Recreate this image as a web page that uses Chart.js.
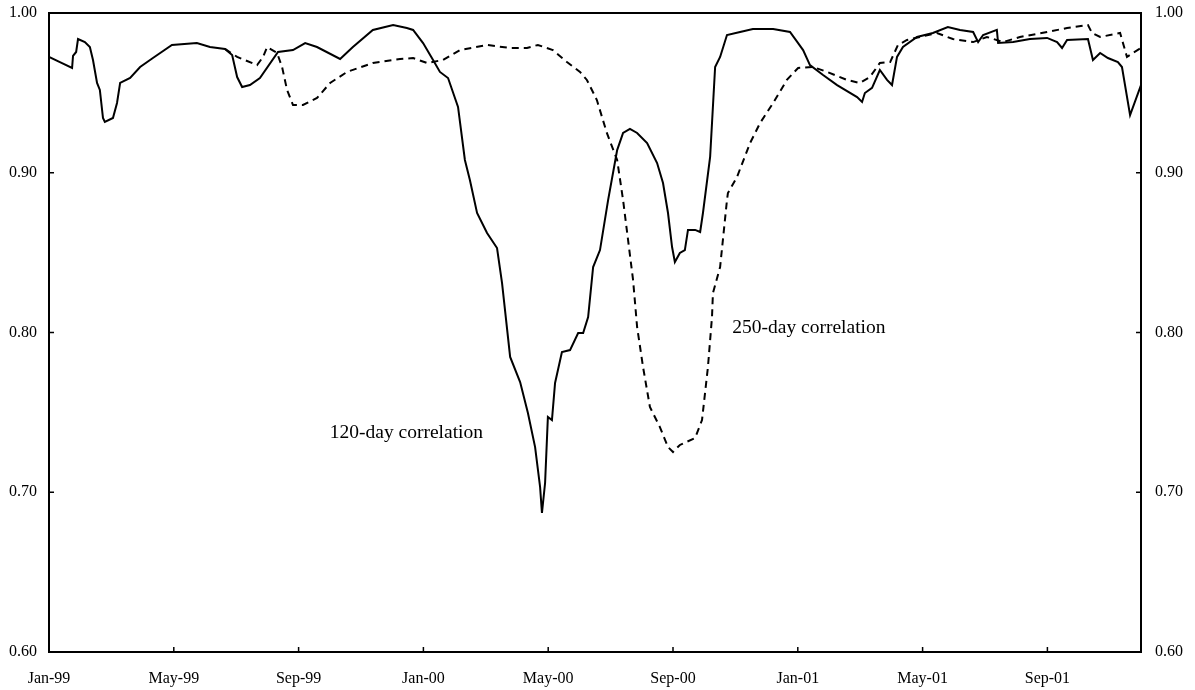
<!DOCTYPE html>
<html>
<head>
<meta charset="utf-8">
<script src="https://cdn.jsdelivr.net/npm/chart.js@4"></script>
<style>
  html, body { margin: 0; padding: 0; background: #fff; }
  #wrap { width: 1195px; height: 690px; }
</style>
</head>
<body>
<div id="wrap"><canvas id="myChart"></canvas></div>
<script>
// months counted from Jan-99 (0) to Dec-01 (35)
var tickMonths = [0, 4, 8, 12, 16, 20, 24, 28, 32];
var tickLabels = ['Jan-99', 'May-99', 'Sep-99', 'Jan-00', 'May-00', 'Sep-00', 'Jan-01', 'May-01', 'Sep-01'];

var months120 = [0, 0.35, 0.74, 0.77, 0.87, 0.93, 1.15, 1.31, 1.41, 1.54, 1.63, 1.73, 1.79, 2.05, 2.18, 2.28, 2.60, 2.92, 3.33, 3.94,
  4.74, 5.16, 5.64, 5.87, 6.03, 6.19, 6.44, 6.76, 7.34, 7.82, 8.21, 8.59, 9.33, 9.74, 10.38, 11.03, 11.47, 11.67, 11.99, 12.31,
  12.53, 12.79, 13.11, 13.33, 13.49, 13.72, 14.04, 14.36, 14.52, 14.78, 15.10, 15.35, 15.58, 15.74, 15.80, 15.90, 15.99, 16.12, 16.22, 16.44,
  16.70, 16.96, 17.12, 17.28, 17.44, 17.66, 17.92, 18.21, 18.40, 18.62, 18.85, 19.17, 19.49, 19.68, 19.84, 19.97, 20.06, 20.22, 20.38, 20.48,
  20.71, 20.87, 20.96, 21.19, 21.35, 21.51, 21.73, 22.15, 22.56, 23.21, 23.75, 24.01, 24.17, 24.39, 24.81, 25.26, 25.90, 26.06, 26.15, 26.38,
  26.63, 26.86, 27.02, 27.18, 27.37, 27.82, 28.33, 28.81, 29.20, 29.62, 29.78, 29.94, 30.38, 30.42, 30.90, 31.44, 31.99, 32.31, 32.47, 32.63,
  33.30, 33.46, 33.69, 33.94, 34.26, 34.39, 34.65, 35.00];
var corr120 = [0.9725, 0.9693, 0.9656, 0.9731, 0.9756, 0.9837, 0.9818, 0.9787, 0.9706, 0.9562, 0.9518, 0.9343, 0.9318, 0.9343, 0.9437, 0.9562, 0.9593, 0.9662, 0.9718, 0.9800,
  0.9812, 0.9787, 0.9775, 0.9737, 0.9599, 0.9537, 0.9549, 0.9593, 0.9756, 0.9768, 0.9812, 0.9787, 0.9712, 0.9787, 0.9894, 0.9925, 0.9906, 0.9894, 0.9812, 0.9706,
  0.9631, 0.9593, 0.9412, 0.9080, 0.8955, 0.8748, 0.8623, 0.8529, 0.8310, 0.7847, 0.7690, 0.7496, 0.7283, 0.7033, 0.6870, 0.7058, 0.7471, 0.7452, 0.7684, 0.7878,
  0.7890, 0.7997, 0.7997, 0.8097, 0.8410, 0.8516, 0.8829, 0.9142, 0.9249, 0.9274, 0.9249, 0.9186, 0.9061, 0.8936, 0.8748, 0.8535, 0.8441, 0.8498, 0.8516, 0.8642,
  0.8642, 0.8629, 0.8748, 0.9099, 0.9662, 0.9725, 0.9862, 0.9881, 0.9900, 0.9900, 0.9881, 0.9812, 0.9768, 0.9674, 0.9612, 0.9549, 0.9474, 0.9443, 0.9499, 0.9531,
  0.9643, 0.9581, 0.9549, 0.9725, 0.9787, 0.9850, 0.9875, 0.9912, 0.9894, 0.9881, 0.9818, 0.9862, 0.9894, 0.9812, 0.9818, 0.9837, 0.9844, 0.9818, 0.9781, 0.9831,
  0.9837, 0.9706, 0.9750, 0.9718, 0.9693, 0.9662, 0.9361, 0.9549];

var months250 = [5.64, 6.03, 6.67, 6.86, 6.99, 7.31, 7.47, 7.63, 7.82, 8.14, 8.59, 9.01, 9.55, 10.38, 11.25, 11.67, 12.12, 12.63, 13.17, 14.04,
  14.78, 15.32, 15.67, 16.15, 16.60, 17.02, 17.24, 17.56, 17.88, 18.21, 18.40, 18.72, 18.85, 19.04, 19.26, 19.58, 19.84, 20.00, 20.22, 20.71,
  20.93, 21.12, 21.25, 21.28, 21.51, 21.73, 21.76, 22.05, 22.47, 22.79, 23.21, 23.65, 24.01, 24.49, 24.94, 25.58, 25.99, 26.31, 26.63, 26.96,
  27.21, 27.50, 27.92, 28.46, 28.97, 29.62, 30.06, 30.58, 31.12, 31.99, 32.63, 33.30, 33.43, 33.69, 34.33, 34.55, 34.74, 35.00];
var corr250 = [0.9775, 0.9725, 0.9674, 0.9725, 0.9787, 0.9750, 0.9662, 0.9518, 0.9424, 0.9424, 0.9468, 0.9562, 0.9631, 0.9687, 0.9712, 0.9718, 0.9687, 0.9706, 0.9768, 0.9800,
  0.9781, 0.9781, 0.9800, 0.9768, 0.9693, 0.9631, 0.9581, 0.9455, 0.9249, 0.9080, 0.8829, 0.8329, 0.8034, 0.7784, 0.7534, 0.7408, 0.7283, 0.7252, 0.7296, 0.7340,
  0.7452, 0.7784, 0.8097, 0.8247, 0.8410, 0.8829, 0.8873, 0.8973, 0.9186, 0.9311, 0.9437, 0.9581, 0.9656, 0.9662, 0.9631, 0.9581, 0.9562, 0.9599, 0.9687, 0.9693,
  0.9800, 0.9831, 0.9850, 0.9875, 0.9837, 0.9818, 0.9850, 0.9818, 0.9850, 0.9881, 0.9906, 0.9925, 0.9875, 0.9850, 0.9875, 0.9725, 0.9750, 0.9781];

// text labels anchored in data units (month, correlation)
var notes = [
  { text: '120-day correlation', month: 9.0, value: 0.737 },
  { text: '250-day correlation', month: 21.9, value: 0.803 }
];

function toPoints(xs, ys) {
  return xs.map(function (x, i) { return { x: x, y: ys[i] }; });
}

var serif = '"Liberation Serif", "Times New Roman", serif';

// frame, inward tick marks and the line captions
var framePlugin = {
  id: 'frame',
  afterDraw: function (chart) {
    var c = chart.ctx, a = chart.chartArea;
    var sx = chart.scales.x, sy = chart.scales.y;
    c.save();
    c.strokeStyle = '#000';
    c.lineWidth = 2;
    c.strokeRect(a.left, a.top, a.right - a.left, a.bottom - a.top);
    c.lineWidth = 1.5;
    c.beginPath();
    tickMonths.forEach(function (m) {
      var px = sx.getPixelForValue(m);
      c.moveTo(px, a.bottom); c.lineTo(px, a.bottom - 5);
    });
    [0.6, 0.7, 0.8, 0.9, 1.0].forEach(function (v) {
      var py = sy.getPixelForValue(v);
      c.moveTo(a.left, py); c.lineTo(a.left + 5, py);
      c.moveTo(a.right, py); c.lineTo(a.right - 5, py);
    });
    c.stroke();
    c.fillStyle = '#000';
    c.font = '19.5px ' + serif;
    c.textBaseline = 'middle';
    c.textAlign = 'left';
    notes.forEach(function (n) {
      c.fillText(n.text, sx.getPixelForValue(n.month), sy.getPixelForValue(n.value));
    });
    c.restore();
  }
};

function fitY(width) {
  return function (s) {
    s.width = width;
    s.paddingTop = 0;
    s.paddingBottom = 0;
  };
}

var ctx = document.getElementById('myChart').getContext('2d');
const chart = new Chart(ctx, {
  type: 'line',
  data: {
    datasets: [{
      label: '120-day correlation',
      data: toPoints(months120, corr120),
      borderColor: '#000',
      borderWidth: 2,
      pointRadius: 0,
      tension: 0,
      fill: false
    }, {
      label: '250-day correlation',
      data: toPoints(months250, corr250),
      borderColor: '#000',
      borderWidth: 2,
      borderDash: [7, 5],
      pointRadius: 0,
      tension: 0,
      fill: false
    }]
  },
  plugins: [framePlugin],
  options: {
    responsive: true,
    maintainAspectRatio: false,
    animation: false,
    layout: { padding: { top: 13, left: 0, right: 0, bottom: 0 } },
    plugins: {
      legend: { display: false },
      tooltip: { enabled: false }
    },
    scales: {
      x: {
        type: 'linear',
        min: 0,
        max: 35,
        afterBuildTicks: function (s) { s.ticks = tickMonths.map(function (m) { return { value: m }; }); },
        afterFit: function (s) { s.height = 38; },
        grid: { display: false, drawTicks: false },
        border: { display: false },
        ticks: {
          padding: 17,
          color: '#000',
          font: { family: serif, size: 16 },
          maxRotation: 0,
          callback: function (v) { return tickLabels[tickMonths.indexOf(v)]; }
        }
      },
      y: {
        position: 'left',
        min: 0.6,
        max: 1.0,
        afterFit: fitY(49),
        grid: { display: false, drawTicks: false },
        border: { display: false },
        ticks: {
          stepSize: 0.1,
          padding: 12,
          color: '#000',
          font: { family: serif, size: 16 },
          callback: function (v) { return v.toFixed(2); }
        }
      },
      y2: {
        position: 'right',
        min: 0.6,
        max: 1.0,
        afterFit: fitY(54),
        grid: { display: false, drawTicks: false },
        border: { display: false },
        ticks: {
          stepSize: 0.1,
          padding: 14,
          color: '#000',
          font: { family: serif, size: 16 },
          callback: function (v) { return v.toFixed(2); }
        }
      }
    }
  }
});
</script>
</body>
</html>
